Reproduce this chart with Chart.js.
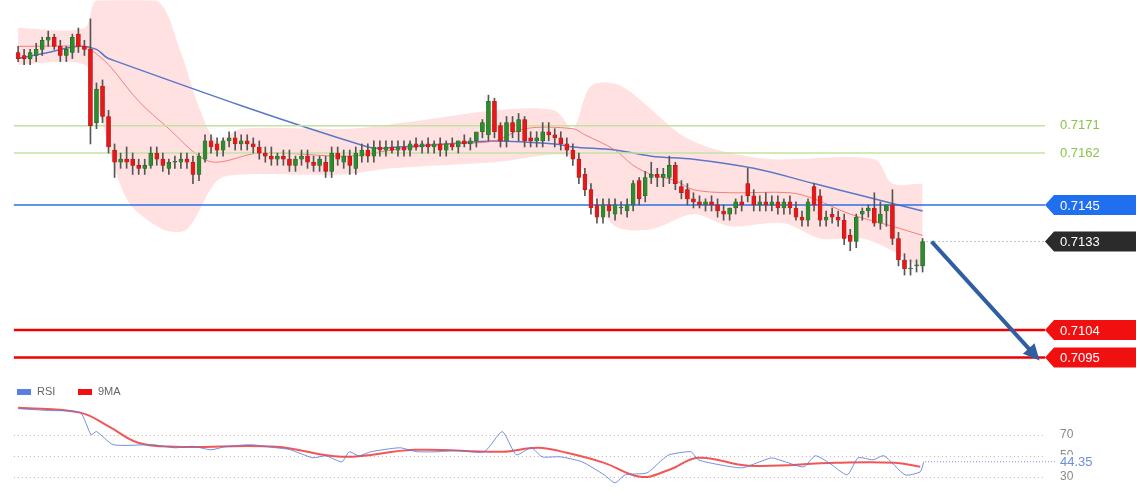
<!DOCTYPE html>
<html>
<head>
<meta charset="utf-8">
<script src="https://cdn.jsdelivr.net/npm/chart.js@4.4.0/dist/chart.umd.min.js"></script>
<style>
  body { margin: 0; background: #fff; }
  canvas { display: block; }
</style>
</head>
<body>
<canvas id="priceChart" width="1140" height="380"></canvas>
<canvas id="rsiChart" width="1140" height="120"></canvas>
<script>
// candles, oldest first
const opens = [
  .7195,.7194,.7193,.7194,.7196,.7199,.7200,.7197,.7194,.7195,
  .7201,.7197,.7196,.7172,.7184,.7174,.7163,.7159,.7160,.7160,
  .7158,.7157,.7158,.7162,.7160,.7157,.7159,.7159,.7160,.7159,
  .7155,.7160,.7166,.7165,.7163,.7166,.7167,.7165,.7166,.7165,
  .7164,.7162,.7161,.7160,.7161,.7160,.7158,.7160,.7161,.7159,
  .7158,.7159,.7156,.7162,.7159,.7161,.7157,.7161,.7163,.7161,
  .7164,.7163,.7164,.7163,.7164,.7163,.7165,.7164,.7165,.7164,
  .7165,.7163,.7165,.7164,.7166,.7165,.7166,.7169,.7168,.7179,
  .7171,.7166,.7172,.7169,.7173,.7167,.7166,.7166,.7169,.7168,
  .7167,.7165,.7163,.7160,.7155,.7150,.7145,.7141,.7145,.7142,
  .7144,.7143,.7145,.7153,.7148,.7154,.7155,.7154,.7154,.7158,
  .7151,.7150,.7147,.7146,.7145,.7146,.7145,.7143,.7142,.7144,
  .7146,.7152,.7148,.7145,.7146,.7145,.7146,.7144,.7146,.7144,
  .7141,.7140,.7151,.7148,.7140,.7142,.7141,.7140,.7135,.7133,
  .7142,.7143,.7144,.7139,.7143,.7145,.7134,.7127,.7124,.7125,
  .7125
];
const highs = [
  .7197,.7196,.7196,.7198,.7200,.7202,.7201,.7199,.7197,.7201,
  .7203,.7199,.7206,.7185,.7186,.7176,.7165,.7162,.7164,.7162,
  .7160,.7160,.7164,.7164,.7162,.7160,.7161,.7162,.7162,.7161,
  .7162,.7168,.7168,.7167,.7167,.7169,.7169,.7168,.7168,.7167,
  .7166,.7164,.7164,.7162,.7163,.7163,.7161,.7163,.7163,.7161,
  .7161,.7161,.7164,.7164,.7163,.7163,.7164,.7165,.7165,.7166,
  .7166,.7166,.7166,.7166,.7166,.7166,.7167,.7166,.7167,.7166,
  .7167,.7166,.7167,.7166,.7168,.7167,.7168,.7173,.7181,.7180,
  .7172,.7174,.7174,.7175,.7174,.7169,.7169,.7172,.7172,.7170,
  .7169,.7167,.7165,.7162,.7157,.7152,.7147,.7147,.7147,.7147,
  .7146,.7147,.7153,.7154,.7156,.7159,.7157,.7157,.7161,.7159,
  .7153,.7152,.7149,.7148,.7147,.7148,.7147,.7145,.7144,.7147,
  .7148,.7157,.7150,.7148,.7149,.7148,.7148,.7147,.7148,.7146,
  .7143,.7147,.7152,.7150,.7143,.7144,.7143,.7142,.7137,.7142,
  .7144,.7145,.7149,.7146,.7145,.7150,.7136,.7129,.7127,.7127,
  .7134
];
const lows = [
  .7192,.7191,.7191,.7192,.7194,.7197,.7196,.7192,.7192,.7193,
  .7195,.7194,.7165,.7170,.7172,.7162,.7154,.7157,.7157,.7155,
  .7155,.7155,.7157,.7158,.7156,.7155,.7157,.7157,.7157,.7152,
  .7153,.7159,.7162,.7161,.7161,.7164,.7163,.7163,.7163,.7162,
  .7160,.7159,.7158,.7158,.7158,.7156,.7156,.7158,.7157,.7156,
  .7156,.7154,.7154,.7158,.7157,.7155,.7155,.7159,.7159,.7159,
  .7161,.7161,.7162,.7161,.7161,.7161,.7163,.7162,.7162,.7162,
  .7161,.7161,.7163,.7162,.7164,.7163,.7164,.7167,.7166,.7167,
  .7164,.7164,.7167,.7166,.7164,.7164,.7164,.7164,.7166,.7164,
  .7163,.7161,.7158,.7152,.7148,.7142,.7139,.7139,.7141,.7140,
  .7142,.7141,.7143,.7145,.7146,.7152,.7151,.7151,.7152,.7150,
  .7147,.7145,.7144,.7144,.7143,.7143,.7141,.7140,.7140,.7142,
  .7143,.7146,.7143,.7143,.7143,.7143,.7142,.7142,.7142,.7140,
  .7138,.7138,.7143,.7138,.7138,.7139,.7138,.7132,.7130,.7131,
  .7140,.7141,.7138,.7137,.7138,.7132,.7125,.7122,.7122,.7123,
  .7123
];
const closes = [
  .7193,.7193,.7195,.7196,.7199,.7200,.7197,.7194,.7196,.7200,
  .7197,.7196,.7171,.7183,.7174,.7164,.7159,.7160,.7159,.7158,
  .7157,.7158,.7162,.7160,.7158,.7159,.7159,.7160,.7159,.7155,
  .7161,.7166,.7164,.7163,.7166,.7167,.7165,.7166,.7165,.7164,
  .7162,.7161,.7160,.7161,.7160,.7158,.7160,.7161,.7159,.7158,
  .7160,.7156,.7162,.7160,.7161,.7158,.7162,.7163,.7161,.7164,
  .7163,.7164,.7163,.7164,.7163,.7165,.7164,.7165,.7164,.7165,
  .7163,.7165,.7164,.7166,.7165,.7166,.7169,.7172,.7179,.7169,
  .7166,.7172,.7169,.7173,.7166,.7166,.7167,.7169,.7168,.7167,
  .7165,.7163,.7160,.7154,.7150,.7144,.7141,.7145,.7143,.7145,
  .7144,.7145,.7152,.7147,.7154,.7155,.7154,.7155,.7158,.7152,
  .7149,.7147,.7146,.7145,.7146,.7145,.7143,.7142,.7144,.7146,
  .7145,.7148,.7145,.7146,.7145,.7146,.7144,.7146,.7144,.7141,
  .7140,.7146,.7145,.7140,.7141,.7141,.7140,.7134,.7133,.7141,
  .7143,.7144,.7139,.7142,.7145,.7134,.7127,.7124,.7124,.7125,
  .7133
];

// bollinger band and moving averages: [candle index, price]
const upperBand = [[0,.7203],[11,.7203],[13,.7212],[23,.7212],[27,.7195],[30,.7177],[33,.7166],[37,.7170],[55,.7170],[64,.7172],[79,.7176],[89,.7176],[92,.7170],[95,.7184],[100,.7184],[110,.7168],[116,.7163],[125,.7160],[142,.7160],[145,.7152],[150,.7152]];
const lowerBand = [[0,.7191],[11,.7191],[13,.7179],[18,.7147],[24,.7137],[28,.7137],[33,.7153],[37,.7155],[54,.7155],[62,.7157],[79,.7159],[92,.7161],[95,.7150],[99,.7138],[105,.7137],[112,.7142],[118,.7138],[127,.7139],[133,.7134],[140,.7134],[145,.7130],[150,.7124]];
const fastMA = [[0,.7197],[11,.7197],[12,.7196],[15,.7191],[20,.7179],[25,.7170],[30,.7161],[33,.7159],[40,.7162],[55,.7161],[62,.7163],[71,.7165],[79,.7166],[84,.7170],[92,.7170],[94,.7168],[99,.7163],[102,.7158],[105,.7155],[109,.7153],[112,.7150],[118,.7149],[128,.7149],[132,.7147],[138,.7142],[145,.7138],[150,.7135]];
const slowMA = [[0,.7193],[5,.7195],[10,.7197],[13,.7196],[15,.7193],[58,.7164],[63,.7164],[71,.7165],[79,.7166],[89,.7165],[92,.7164],[99,.7163],[105,.7161],[112,.7160],[122,.7157],[132,.7152],[140,.7148],[150,.7143]];

// levels
const resistLevels = [0.7171, 0.7162];
const pivotLevel = 0.7145;
const lastPrice = 0.7133;
const supportLevels = [0.7104, 0.7095];

// RSI pane: [candle index, value]
const rsiValues = [[0,94.8],[5,93],[10.3,91],[12.1,70],[13,73],[15.8,60.5],[22.4,60.5],[26,57.6],[29,59],[32,55.7],[34.3,58.6],[38.6,60.5],[42.8,57.6],[45,56],[48.9,48.1],[51,50],[53.7,44.3],[54.9,53.8],[56.5,50],[58.5,53.8],[63.3,57.6],[66,54],[69.3,53.8],[73,55],[77.3,53.8],[80.3,72.9],[82.6,51],[85.1,57.6],[86.9,49],[89.9,49],[93.5,44.3],[97.2,31.9],[99,24.3],[100.7,31.9],[104.3,33.8],[106.8,46.2],[108,51],[111.6,53.8],[112.8,46.2],[116.4,41.4],[120.1,38.6],[123,44.3],[125,48],[127.2,44.3],[130.3,39.5],[132.2,50],[134.5,43.3],[137.5,31.9],[139.3,48.1],[141.8,46.2],[143.6,50],[147.1,31.9],[149.6,34.8],[150.2,44.35]];
const rsiMA = [[0,95.7],[10.3,91],[15.1,77.6],[19.9,62.4],[26,58.6],[42.8,58.6],[53.7,49],[65.8,55.7],[80.3,53.8],[86.2,57.6],[91,52.9],[97.2,43.3],[103.2,30],[108,36.7],[112.8,48.1],[121.2,40.5],[135.7,43.3],[145.4,43.3],[149.6,39.5]];
const rsiLevels = [70, 50, 30];
const rsiLast = 44.35;

const xMin = -3, xMax = 170.3, lineStart = -0.7;
const pts = arr => arr.map(p => ({ x: p[0], y: p[1] }));
const hLine = v => [{ x: lineStart, y: v }, { x: xMax, y: v }];
const UP = "#2e8b2e", DOWN = "#e41a1a";

function tagShape(ctx, x, y, w, h) {
    ctx.beginPath();
    ctx.moveTo(x, y);
    ctx.lineTo(x + 9, y - h / 2);
    ctx.lineTo(x + w, y - h / 2);
    ctx.lineTo(x + w, y + h / 2);
    ctx.lineTo(x + 9, y + h / 2);
    ctx.closePath();
}

const overlayPlugin = {
    id: "overlay",
    afterDatasetsDraw(chart) {
        const ctx = chart.ctx, xs = chart.scales.x, ys = chart.scales.y;
        const tagX = xs.getPixelForValue(xMax);
        ctx.save();
        ctx.font = "13px 'Liberation Sans', Arial, sans-serif";
        ctx.textBaseline = "middle";

        // dotted line to last price
        const lastX = xs.getPixelForValue(closes.length - 1);
        ctx.strokeStyle = "#888";
        ctx.lineWidth = 1;
        ctx.setLineDash([1, 3]);
        ctx.beginPath();
        ctx.moveTo(lastX + 4, ys.getPixelForValue(lastPrice));
        ctx.lineTo(tagX, ys.getPixelForValue(lastPrice));
        ctx.stroke();
        ctx.setLineDash([]);

        resistLevels.forEach(v => {
            ctx.fillStyle = "#8cc34a";
            ctx.fillText(v.toFixed(4), tagX + 15, ys.getPixelForValue(v));
        });

        const tags = [[pivotLevel, "#1f6fef"], [lastPrice, "#2b2b2b"]].concat(supportLevels.map(v => [v, "#f01010"]));
        tags.forEach(([v, color]) => {
            const y = ys.getPixelForValue(v);
            tagShape(ctx, tagX, y, 91, 20);
            ctx.fillStyle = color;
            ctx.fill();
            ctx.fillStyle = "#fff";
            ctx.fillText(v.toFixed(4), tagX + 15, y + 1);
        });

        // forecast arrow
        const x1 = xs.getPixelForValue(closes.length + 0.5), y1 = ys.getPixelForValue(lastPrice);
        const x2 = xs.getPixelForValue(169.4), y2 = ys.getPixelForValue(0.7094);
        const ang = Math.atan2(y2 - y1, x2 - x1);
        ctx.strokeStyle = "#2f5fa0";
        ctx.fillStyle = "#2f5fa0";
        ctx.lineWidth = 4;
        ctx.beginPath();
        ctx.moveTo(x1, y1);
        ctx.lineTo(x2 - 14 * Math.cos(ang), y2 - 14 * Math.sin(ang));
        ctx.stroke();
        ctx.beginPath();
        ctx.moveTo(x2, y2);
        ctx.lineTo(x2 - 18 * Math.cos(ang - 0.45), y2 - 18 * Math.sin(ang - 0.45));
        ctx.lineTo(x2 - 18 * Math.cos(ang + 0.45), y2 - 18 * Math.sin(ang + 0.45));
        ctx.closePath();
        ctx.fill();
        ctx.restore();
    }
};

new Chart(document.getElementById("priceChart"), {
    plugins: [overlayPlugin],
    data: {
        datasets: [
            { type: "line", data: pts(upperBand), fill: "+1", backgroundColor: "rgba(255,180,180,0.4)", borderWidth: 0, pointRadius: 0, tension: 0.3, order: 20 },
            { type: "line", data: pts(lowerBand), borderWidth: 0, pointRadius: 0, tension: 0.3, order: 20 },
            { type: "line", data: pts(fastMA), borderColor: "rgba(240,110,110,0.85)", borderWidth: 1, pointRadius: 0, tension: 0.35, order: 9 },
            { type: "line", data: pts(slowMA), borderColor: "#5a78c8", borderWidth: 1.5, pointRadius: 0, tension: 0.35, order: 9 },
            ...resistLevels.map(v => ({ type: "line", data: hLine(v), borderColor: "#c2e3a0", borderWidth: 1.5, pointRadius: 0, order: 8 })),
            { type: "line", data: hLine(pivotLevel), borderColor: "#2a6fe6", borderWidth: 1.5, pointRadius: 0, order: 8 },
            ...supportLevels.map(v => ({ type: "line", data: hLine(v), borderColor: "#ee0000", borderWidth: 2.5, pointRadius: 0, order: 8 })),
            { type: "bar", data: closes.map((c, i) => ({ x: i, y: [lows[i], highs[i]] })), backgroundColor: "#555", barThickness: 1, grouped: false, order: 2 },
            { type: "bar", data: closes.map((c, i) => ({ x: i, y: [opens[i], c] })),
              backgroundColor: closes.map((c, i) => c >= opens[i] ? UP : DOWN),
              borderColor: closes.map((c, i) => c >= opens[i] ? "#1f5f1f" : "#b01010"),
              borderWidth: 0.5, borderSkipped: false, barThickness: 4, minBarLength: 1, grouped: false, order: 1 }
        ]
    },
    options: {
        responsive: false,
        animation: false,
        devicePixelRatio: 1,
        layout: { padding: { left: 0, right: 95, top: 0, bottom: 0 } },
        plugins: { legend: { display: false }, tooltip: { enabled: false } },
        scales: {
            x: { type: "linear", min: xMin, max: xMax, offset: false, display: false },
            y: { min: 0.70876, max: 0.72122, display: false }
        }
    }
});

const rsiOverlay = {
    id: "rsiOverlay",
    beforeDatasetsDraw(chart) {
        const ctx = chart.ctx, xs = chart.scales.x, ys = chart.scales.y;
        ctx.save();
        ctx.strokeStyle = "#c8b0b0";
        ctx.lineWidth = 1;
        ctx.setLineDash([1, 3]);
        rsiLevels.forEach(v => {
            const y = Math.round(ys.getPixelForValue(v)) + 0.5;
            ctx.beginPath();
            ctx.moveTo(xs.getPixelForValue(lineStart), y);
            ctx.lineTo(xs.getPixelForValue(xMax), y);
            ctx.stroke();
        });
        ctx.setLineDash([]);
        ctx.restore();
    },
    afterDatasetsDraw(chart) {
        const ctx = chart.ctx, xs = chart.scales.x, ys = chart.scales.y;
        const labelX = xs.getPixelForValue(xMax) + 15;
        ctx.save();
        ctx.font = "12px 'Liberation Sans', Arial, sans-serif";
        ctx.textBaseline = "middle";
        rsiLevels.forEach(v => {
            ctx.fillStyle = "#888";
            ctx.fillText(String(v), labelX, ys.getPixelForValue(v));
        });
        // last value
        const y = ys.getPixelForValue(rsiLast);
        ctx.fillStyle = "#fff";
        ctx.fillRect(labelX - 2, y - 7, 40, 14);
        ctx.strokeStyle = "#7a9be0";
        ctx.setLineDash([1, 2]);
        ctx.beginPath();
        ctx.moveTo(xs.getPixelForValue(150.4), y);
        ctx.lineTo(labelX - 4, y);
        ctx.stroke();
        ctx.setLineDash([]);
        ctx.fillStyle = "#6b8fe0";
        ctx.font = "13px 'Liberation Sans', Arial, sans-serif";
        ctx.fillText(rsiLast.toFixed(2), labelX, y + 1);

        // legend
        ctx.font = "11px 'Liberation Sans', Arial, sans-serif";
        ctx.fillStyle = "#5b7fe0";
        ctx.fillRect(17, 9, 14, 6);
        ctx.fillStyle = "#666";
        ctx.fillText("RSI", 37, 12);
        ctx.fillStyle = "#ee1111";
        ctx.fillRect(78, 9, 14, 6);
        ctx.fillStyle = "#666";
        ctx.fillText("9MA", 98, 12);
        ctx.restore();
    }
};

new Chart(document.getElementById("rsiChart"), {
    type: "line",
    plugins: [rsiOverlay],
    data: {
        datasets: [
            { label: "RSI", data: pts(rsiValues), borderColor: "rgba(90,125,220,0.85)", borderWidth: 1, pointRadius: 0, tension: 0.2 },
            { label: "9MA", data: pts(rsiMA), borderColor: "rgba(238,30,30,0.75)", borderWidth: 2, pointRadius: 0, tension: 0.4 }
        ]
    },
    options: {
        responsive: false,
        animation: false,
        devicePixelRatio: 1,
        layout: { padding: { left: 0, right: 95, top: 20, bottom: 0 } },
        plugins: { legend: { display: false }, tooltip: { enabled: false } },
        scales: {
            x: { type: "linear", min: xMin, max: xMax, display: false },
            y: { min: 8, max: 103, display: false }
        }
    }
});
</script>
</body>
</html>
